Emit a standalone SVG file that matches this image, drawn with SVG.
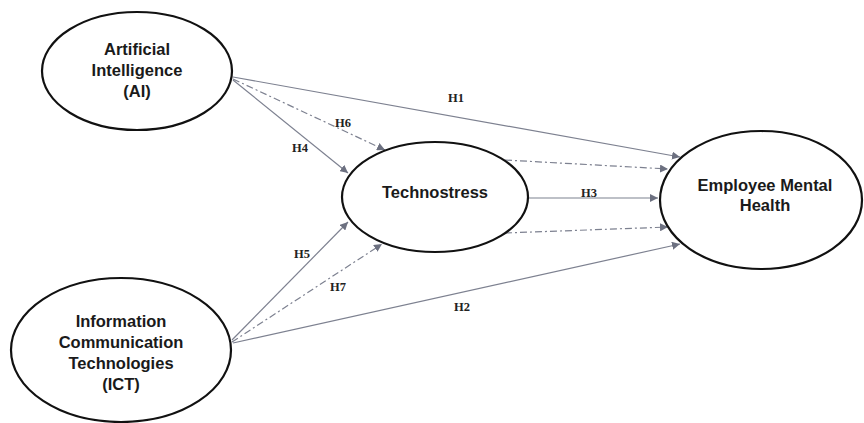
<svg xmlns="http://www.w3.org/2000/svg" width="864" height="423" viewBox="0 0 864 423">
<style>
.node ellipse{fill:#fff;stroke:#111;stroke-width:2.2}
.nt{font-family:"Liberation Sans",Arial,sans-serif;font-weight:bold;font-size:16.5px;fill:#1a1a1a;text-anchor:middle}
.c{stroke:#7d8190;stroke-width:1.2;fill:none}
.d{stroke-dasharray:7 3 2 3}
.lb{font-family:"Liberation Serif","Times New Roman",serif;font-weight:bold;font-size:12.5px;fill:#222;text-anchor:middle}
</style>
<defs>
<marker id="ah" viewBox="0 0 10 10" refX="10" refY="5" markerWidth="8" markerHeight="8" markerUnits="userSpaceOnUse" orient="auto">
<path d="M0,0 L10,5 L0,10 z" fill="#6c7080"/>
</marker>
</defs>
<rect width="864" height="423" fill="#fff"/>
<g id="connectors">
<line class="c" x1="233" y1="77" x2="680" y2="157" marker-end="url(#ah)"/>
<line class="c d" x1="233" y1="79" x2="385" y2="150" marker-end="url(#ah)"/>
<line class="c" x1="233" y1="80" x2="348" y2="173" marker-end="url(#ah)"/>
<line class="c" x1="232" y1="340" x2="348" y2="222" marker-end="url(#ah)"/>
<line class="c d" x1="232" y1="342" x2="382" y2="244" marker-end="url(#ah)"/>
<line class="c" x1="233" y1="343" x2="680" y2="244" marker-end="url(#ah)"/>
<line class="c" x1="528" y1="198" x2="658" y2="198" marker-end="url(#ah)"/>
<line class="c d" x1="505" y1="160" x2="668" y2="169" marker-end="url(#ah)"/>
<line class="c d" x1="505" y1="233" x2="668" y2="227" marker-end="url(#ah)"/>
<text class="lb" x="456" y="102">H1</text>
<text class="lb" x="343" y="127">H6</text>
<text class="lb" x="300" y="152">H4</text>
<text class="lb" x="302" y="258">H5</text>
<text class="lb" x="338" y="291">H7</text>
<text class="lb" x="462" y="311">H2</text>
<text class="lb" x="589" y="197">H3</text>
</g>
<g id="ai" class="node">
<ellipse cx="137" cy="71" rx="95" ry="59"/>
<text class="nt" x="137" y="55">Artificial</text>
<text class="nt" x="137" y="76">Intelligence</text>
<text class="nt" x="137" y="97">(AI)</text>
</g>
<g id="ict" class="node">
<ellipse cx="121" cy="350" rx="110" ry="72"/>
<text class="nt" x="121" y="327">Information</text>
<text class="nt" x="121" y="348">Communication</text>
<text class="nt" x="121" y="369">Technologies</text>
<text class="nt" x="121" y="390">(ICT)</text>
</g>
<g id="technostress" class="node">
<ellipse cx="435" cy="197" rx="93" ry="55"/>
<text class="nt" x="435" y="198">Technostress</text>
</g>
<g id="emh" class="node">
<ellipse cx="761" cy="200" rx="101" ry="69"/>
<text class="nt" x="765" y="191">Employee Mental</text>
<text class="nt" x="765" y="211">Health</text>
</g>
</svg>
